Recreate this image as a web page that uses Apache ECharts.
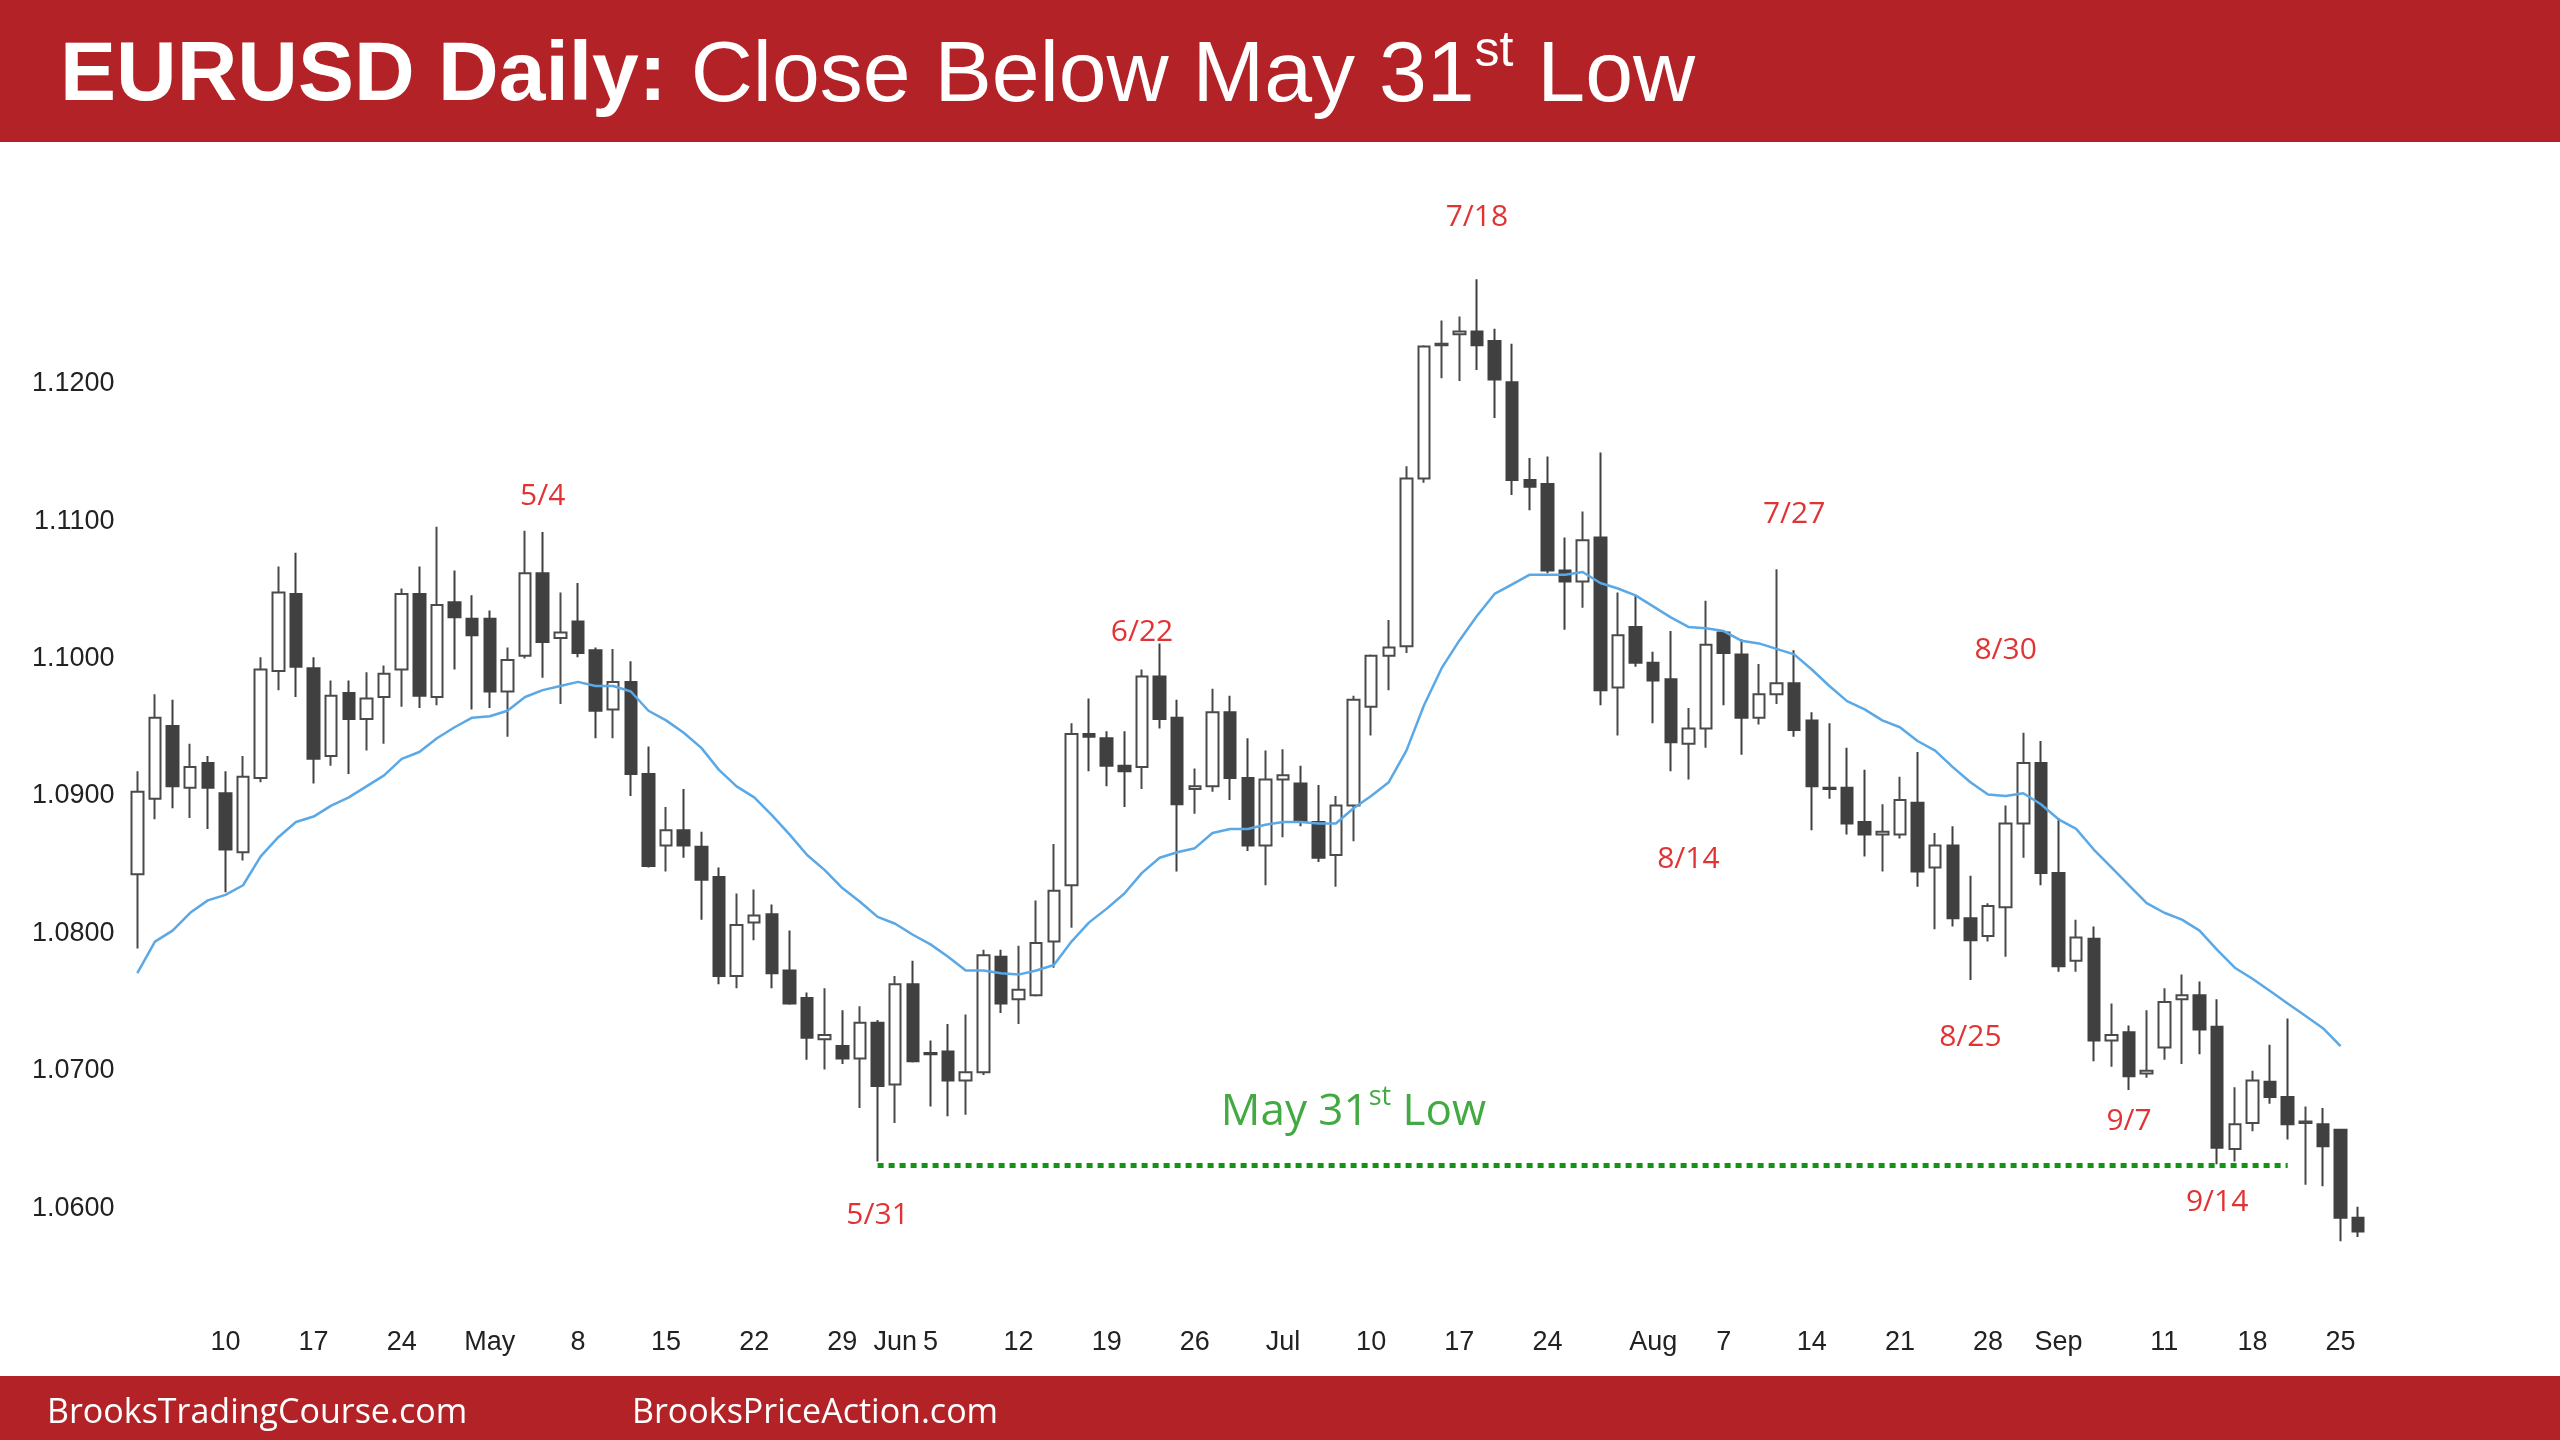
<!DOCTYPE html>
<html>
<head>
<meta charset="utf-8">
<title>EURUSD Daily</title>
<script src="https://cdn.jsdelivr.net/npm/echarts@6/dist/echarts.min.js"></script>
<style>
  html, body { margin: 0; padding: 0; background: #fff; }
  #chart { width: 2560px; height: 1440px; }
</style>
</head>
<body>
<div id="chart"></div>
<script>
// trading days, Apr 3 - Sep 26 2023
const dates = [
  '4/3','4/4','4/5','4/6','4/7','4/10','4/11','4/12','4/13','4/14','4/17','4/18','4/19','4/20','4/21','4/24','4/25','4/26','4/27','4/28',
  '5/1','5/2','5/3','5/4','5/5','5/8','5/9','5/10','5/11','5/12','5/15','5/16','5/17','5/18','5/19','5/22','5/23','5/24','5/25','5/26','5/29','5/30','5/31',
  '6/1','6/2','6/5','6/6','6/7','6/8','6/9','6/12','6/13','6/14','6/15','6/16','6/19','6/20','6/21','6/22','6/23','6/26','6/27','6/28','6/29','6/30',
  '7/3','7/4','7/5','7/6','7/7','7/10','7/11','7/12','7/13','7/14','7/17','7/18','7/19','7/20','7/21','7/24','7/25','7/26','7/27','7/28','7/31',
  '8/1','8/2','8/3','8/4','8/7','8/8','8/9','8/10','8/11','8/14','8/15','8/16','8/17','8/18','8/21','8/22','8/23','8/24','8/25','8/28','8/29','8/30','8/31',
  '9/1','9/4','9/5','9/6','9/7','9/8','9/11','9/12','9/13','9/14','9/15','9/18','9/19','9/20','9/21','9/22','9/25','9/26'
];

const opens = [
  1.0843,1.0898,1.0951,1.0906,1.0924,1.0902,1.0859,1.0913,1.0991,1.1047,
  1.0993,1.0929,1.0975,1.0956,1.0972,1.0992,1.1047,1.0972,1.1041,1.1029,
  1.1029,1.0976,1.1002,1.1062,1.1015,1.1027,1.1006,1.0963,1.0983,1.0916,
  1.0864,1.0875,1.0863,1.0841,1.0769,1.0808,1.0814,1.0773,1.0753,1.0723,
  1.0718,1.0709,1.0735,1.0690,1.0763,1.0713,1.0714,1.0693,1.0699,1.0783,
  1.0752,1.0755,1.0794,1.0835,1.0945,1.0942,1.0922,1.0921,1.0987,1.0957,
  1.0905,1.0907,1.0961,1.0913,1.0864,1.0912,1.0909,1.0881,1.0857,1.0893,
  1.0965,1.1002,1.1009,1.1131,1.1228,1.1236,1.1238,1.1231,1.1201,1.1130,
  1.1127,1.1064,1.1056,1.1088,1.0979,1.1023,1.0997,1.0985,1.0938,1.0949,
  1.1019,1.1003,1.0957,1.0974,1.0982,1.0955,1.0906,1.0906,1.0881,1.0872,
  1.0872,1.0895,1.0848,1.0864,1.0811,1.0798,1.0819,1.0880,1.0924,1.0844,
  1.0780,1.0796,1.0722,1.0728,1.0698,1.0717,1.0752,1.0755,1.0732,1.0643,
  1.0662,1.0692,1.0681,1.0662,1.0661,1.0657,1.0593
];
const closes = [
  1.0903,1.0957,1.0907,1.0921,1.0906,1.0861,1.0914,1.0992,1.1048,1.0994,
  1.0927,1.0973,1.0956,1.0971,1.0989,1.1047,1.0973,1.1039,1.1030,1.1017,
  1.0976,1.0999,1.1062,1.1012,1.1019,1.1004,1.0962,1.0983,1.0916,1.0849,
  1.0875,1.0864,1.0839,1.0769,1.0806,1.0813,1.0771,1.0749,1.0724,1.0726,
  1.0709,1.0735,1.0689,1.0763,1.0707,1.0712,1.0693,1.0699,1.0784,1.0749,
  1.0759,1.0793,1.0831,1.0945,1.0943,1.0922,1.0918,1.0987,1.0956,1.0894,
  1.0907,1.0961,1.0913,1.0864,1.0912,1.0915,1.0881,1.0855,1.0893,1.0970,
  1.1002,1.1008,1.1131,1.1227,1.1229,1.1238,1.1228,1.1203,1.1130,1.1125,
  1.1064,1.1056,1.1086,1.0977,1.1017,1.0997,1.0984,1.0939,1.0949,1.1010,
  1.1004,1.0957,1.0974,1.0982,1.0948,1.0907,1.0905,1.0880,1.0872,1.0874,
  1.0897,1.0845,1.0864,1.0811,1.0795,1.0820,1.0880,1.0924,1.0844,1.0776,
  1.0797,1.0722,1.0726,1.0696,1.0700,1.0750,1.0755,1.0730,1.0644,1.0661,
  1.0693,1.0681,1.0661,1.0663,1.0645,1.0593,1.0583
];
const lows = [
  1.0789,1.0883,1.0891,1.0884,1.0876,1.0830,1.0853,1.0910,1.0977,1.0972,
  1.0909,1.0922,1.0916,1.0933,1.0938,1.0965,1.0964,1.0966,1.0992,1.0963,
  1.0964,1.0943,1.1000,1.0986,1.0967,1.1001,1.0942,1.0942,1.0900,1.0848,
  1.0845,1.0855,1.0810,1.0763,1.0760,1.0795,1.0760,1.0748,1.0708,1.0701,
  1.0705,1.0673,1.0634,1.0662,1.0706,1.0674,1.0667,1.0668,1.0697,1.0742,
  1.0734,1.0754,1.0775,1.0804,1.0918,1.0907,1.0892,1.0905,1.0949,1.0845,
  1.0887,1.0903,1.0897,1.0860,1.0835,1.0870,1.0878,1.0852,1.0834,1.0867,
  1.0944,1.0977,1.1004,1.1128,1.1204,1.1202,1.1210,1.1175,1.1119,1.1108,
  1.1062,1.1021,1.1037,1.0966,1.0944,1.0994,1.0953,1.0918,1.0912,1.0935,
  1.0966,1.0930,1.0952,1.0967,1.0943,1.0875,1.0898,1.0872,1.0856,1.0845,
  1.0869,1.0834,1.0803,1.0805,1.0766,1.0794,1.0783,1.0855,1.0835,1.0772,
  1.0772,1.0707,1.0703,1.0686,1.0695,1.0708,1.0705,1.0712,1.0632,1.0634,
  1.0656,1.0676,1.0650,1.0617,1.0616,1.0576,1.0579
];
const highs = [
  1.0918,1.0974,1.0970,1.0938,1.0929,1.0918,1.0929,1.1001,1.1067,1.1077,
  1.1001,1.0984,1.0984,1.0990,1.0995,1.1051,1.1067,1.1096,1.1064,1.1046,
  1.1035,1.1008,1.1093,1.1092,1.1048,1.1055,1.1008,1.1007,1.0998,1.0936,
  1.0892,1.0905,1.0874,1.0848,1.0829,1.0832,1.0821,1.0802,1.0757,1.0760,
  1.0744,1.0747,1.0737,1.0769,1.0780,1.0722,1.0734,1.0741,1.0788,1.0788,
  1.0791,1.0824,1.0865,1.0953,1.0971,1.0947,1.0947,1.0992,1.1011,1.0970,
  1.0920,1.0978,1.0973,1.0942,1.0933,1.0934,1.0922,1.0908,1.0900,1.0973,
  1.1003,1.1028,1.1140,1.1228,1.1246,1.1249,1.1276,1.1240,1.1229,1.1146,
  1.1147,1.1088,1.1107,1.1150,1.1048,1.1046,1.1005,1.1020,1.0964,1.1042,
  1.1020,1.1014,1.0996,1.1065,1.1006,1.0961,1.0953,1.0935,1.0919,1.0894,
  1.0914,1.0932,1.0873,1.0878,1.0842,1.0822,1.0893,1.0946,1.0940,1.0884,
  1.0810,1.0805,1.0749,1.0733,1.0744,1.0760,1.0770,1.0765,1.0752,1.0688,
  1.0700,1.0719,1.0738,1.0674,1.0673,1.0657,1.0601
];
// 20 bar EMA
const ema20 = [
  1.0771,1.0794,1.0802,1.0815,1.0824,1.0828,1.0835,1.0856,1.0870,1.0881,
  1.0885,1.0893,1.0899,1.0907,1.0915,1.0927,1.0932,1.0942,1.0950,1.0957,
  1.0958,1.0962,1.0972,1.0977,1.0980,1.0983,1.0980,1.0980,1.0976,1.0962,
  1.0955,1.0946,1.0935,1.0919,1.0907,1.0899,1.0886,1.0872,1.0857,1.0846,
  1.0833,1.0823,1.0812,1.0807,1.0799,1.0792,1.0783,1.0773,1.0773,1.0771,
  1.0770,1.0773,1.0777,1.0794,1.0808,1.0818,1.0829,1.0844,1.0855,1.0859,
  1.0862,1.0873,1.0876,1.0876,1.0879,1.0881,1.0881,1.0880,1.0880,1.0891,
  1.0900,1.0910,1.0933,1.0966,1.0993,1.1013,1.1031,1.1047,1.1054,1.1061,
  1.1061,1.1061,1.1063,1.1055,1.1051,1.1046,1.1038,1.1030,1.1023,1.1022,
  1.1020,1.1013,1.1011,1.1007,1.1003,1.0992,1.0980,1.0969,1.0963,1.0955,
  1.0950,1.0940,1.0933,1.0921,1.0910,1.0901,1.0900,1.0902,1.0894,1.0883,
  1.0876,1.0861,1.0848,1.0835,1.0822,1.0815,1.0810,1.0802,1.0788,1.0775,
  1.0767,1.0758,1.0749,1.0740,1.0731,1.0718,'-'
];

const tickLabels = [
  ['4/10','10'],['4/17','17'],['4/24','24'],['5/1','May'],['5/8','8'],['5/15','15'],['5/22','22'],
  ['5/29','29'],['6/1','Jun'],['6/5','5'],['6/12','12'],['6/19','19'],['6/26','26'],['7/3','Jul'],
  ['7/10','10'],['7/17','17'],['7/24','24'],['8/1','Aug'],['8/7','7'],['8/14','14'],['8/21','21'],
  ['8/28','28'],['9/1','Sep'],['9/11','11'],['9/18','18'],['9/25','25']
];

// [anchor day, price, text]
const notes = [
  ['5/4', 1.1118, '5/4'],
  ['6/21', 1.1019, '6/22'],
  ['7/18', 1.1321, '7/18'],
  ['8/11', 1.1105, '7/27'],
  ['8/29', 1.1006, '8/30'],
  ['8/3', 1.0854, '8/14'],
  ['8/25', 1.0724, '8/25'],
  ['9/7', 1.0663, '9/7'],
  ['9/14', 1.0604, '9/14'],
  ['5/31', 1.0595, '5/31']
];
const may31Low = 1.0631;
const lowLineEnd = '9/20';
const lowNote = ['7/7', 1.0670];

const chart = echarts.init(document.getElementById('chart'));

const candles = dates.map((d, i) => [opens[i], closes[i], lows[i], highs[i]]);
const tickMap = {};
tickLabels.forEach(t => { tickMap[t[0]] = t[1]; });

const RED = '#d90000';
const GREEN = '#149414';
const BAND = '#b22226';

chart.setOption({
  animation: false,
  backgroundColor: '#ffffff',
  grid: { left: 128.5, right: 193, top: 177.6, bottom: 163.1 },
  xAxis: {
    type: 'category',
    data: dates,
    boundaryGap: true,
    axisLine: { show: false },
    axisTick: { show: false },
    splitLine: { show: false },
    axisLabel: {
      interval: 0,
      margin: 52,
      fontFamily: 'Liberation Sans',
      fontSize: 27,
      color: '#222',
      formatter: v => tickMap[v] || ''
    }
  },
  yAxis: {
    type: 'value',
    min: 1.055,
    max: 1.135,
    interval: 0.005,
    axisLine: { show: false },
    axisTick: { show: false },
    splitLine: { show: false },
    axisLabel: {
      margin: 14,
      fontFamily: 'Liberation Sans',
      fontSize: 27,
      color: '#222',
      formatter: v => {
        const r = Math.round(v * 1000);
        return (r % 10 === 0 && r >= 1060 && r <= 1120) ? v.toFixed(4) : '';
      }
    }
  },
  series: [
    {
      name: 'EURUSD',
      type: 'candlestick',
      data: candles,
      barWidth: 12,
      itemStyle: {
        color: '#ffffff',
        color0: '#404040',
        borderColor: '#4a4a4a',
        borderColor0: '#404040',
        borderWidth: 2
      },
      markLine: {
        silent: true,
        symbol: ['none', 'none'],
        label: { show: false },
        lineStyle: { color: GREEN, width: 5, type: [6, 5] },
        data: [[{ coord: ['5/31', may31Low] }, { coord: [lowLineEnd, may31Low] }]]
      }
    },
    {
      name: 'EMA20',
      type: 'line',
      data: ema20,
      showSymbol: false,
      smooth: false,
      lineStyle: { color: '#5aa8e6', width: 2.5 }
    },
    {
      name: 'notes',
      type: 'scatter',
      symbolSize: 0,
      silent: true,
      clip: false,
      label: {
        show: true,
        position: 'inside',
        fontFamily: 'Open Sans',
        fontSize: 30,
        color: RED
      },
      data: notes.map(n => ({ value: [n[0], n[1]], label: { formatter: n[2] } })).concat([{
        value: lowNote,
        label: {
          formatter: '{m|May 31}{s|st}{m| Low}',
          rich: {
            m: { fontFamily: 'Open Sans', fontSize: 44, color: GREEN, lineHeight: 56 },
            s: { fontFamily: 'Open Sans', fontSize: 27, color: GREEN, lineHeight: 36, verticalAlign: 'top' }
          }
        }
      }])
    }
  ],
  graphic: [
    { type: 'rect', shape: { x: 0, y: 0, width: 2560, height: 142 }, style: { fill: BAND }, silent: true },
    { type: 'rect', shape: { x: 0, y: 1376, width: 2560, height: 64 }, style: { fill: BAND }, silent: true },
    {
      type: 'text', x: 60, y: 77,
      style: {
        text: '{b|EURUSD Daily:}{n| Close Below May 31}{s|st}{n| Low}',
        verticalAlign: 'middle',
        rich: {
          b: { fontFamily: 'Liberation Sans', fontWeight: 'bold', fontSize: 84, fill: '#fff', lineHeight: 100 },
          n: { fontFamily: 'Liberation Sans', fontSize: 86, fill: '#fff', lineHeight: 100 },
          s: { fontFamily: 'Liberation Sans', fontSize: 50, fill: '#fff', lineHeight: 64, verticalAlign: 'top' }
        }
      }
    },
    {
      type: 'text', x: 47, y: 1413,
      style: { text: 'BrooksTradingCourse.com', fontFamily: 'Open Sans', fontSize: 34, fill: '#fff', verticalAlign: 'middle' }
    },
    {
      type: 'text', x: 632, y: 1413,
      style: { text: 'BrooksPriceAction.com', fontFamily: 'Open Sans', fontSize: 34, fill: '#fff', verticalAlign: 'middle' }
    }
  ]
});
</script>
</body>
</html>
